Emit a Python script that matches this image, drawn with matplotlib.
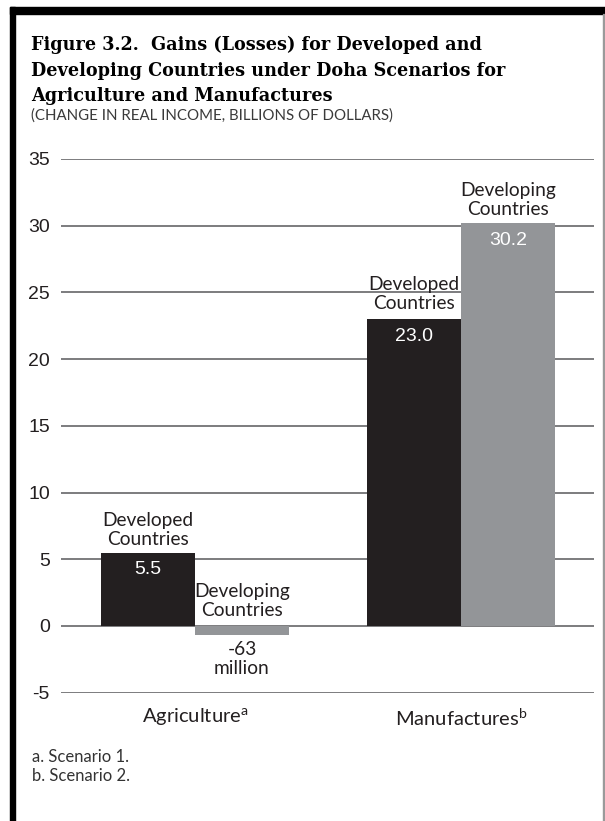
import matplotlib
matplotlib.use("Agg")
import matplotlib.pyplot as plt
from matplotlib.patches import Rectangle
import numpy as np

categories = ["Agriculture", "Manufactures"]
cat_notes = ["a", "b"]
developed = [5.5, 23.0]
developing = [-0.65, 30.2]
developed_labels = ["5.5", "23.0"]
developing_labels = ["-63\nmillion", "30.2"]
yticks = [-5, 0, 5, 10, 15, 20, 25, 30, 35]

W, H = 605, 821
fig = plt.figure(figsize=(W / 100, H / 100), dpi=100)

def fx(px):
    return px / W

def fy(py):
    return 1 - py / H

# frame
fig.patches.append(Rectangle((fx(10), 0), fx(15) - fx(10), fy(7), transform=fig.transFigure,
                             color="black", zorder=0))
fig.patches.append(Rectangle((fx(10), fy(14)), 1 - fx(10), fy(7) - fy(14), transform=fig.transFigure,
                             color="black", zorder=0))
fig.patches.append(Rectangle((fx(603), 0), fx(1.3), fy(14), transform=fig.transFigure,
                             color="#9a9a9a", zorder=0))

ax = fig.add_axes([fx(61), fy(692.7), fx(594) - fx(61), fy(159) - fy(692.7)])

sans = ["Lato", "DejaVu Sans"]
num = ["Liberation Sans", "DejaVu Sans"]
dark = "#231f20"
gray = "#939598"

x = np.arange(len(categories))
w = 0.353
ax.bar(x - w / 2, developed, width=w, color=dark, zorder=3)
ax.bar(x + w / 2, developing, width=w, color=gray, zorder=3)

ax.set_xlim(-0.504, 1.5)
ax.set_ylim(-5, 35)
ax.set_yticks(yticks)
ax.set_yticklabels([str(t) for t in yticks], fontfamily=num, fontsize=14, color="#231f20")
ax.tick_params(axis="y", length=0, pad=8)
ax.set_xticks([])
for t in yticks:
    ax.axhline(t, color="#58595b", lw=1.1, zorder=2)
for s in ax.spines.values():
    s.set_visible(False)

lab_fs = 13.8
ls = 1.15
# Agriculture
ax.text(x[0] - w / 2, developed[0] + 0.35, "Developed\nCountries", ha="center", va="bottom",
        fontfamily=sans, fontsize=lab_fs, color=dark, linespacing=ls)
ax.text(x[0] - w / 2, developed[0] - 0.65, developed_labels[0], ha="center", va="top",
        fontfamily=num, fontsize=14, color="white")
ax.text(x[0] + w / 2, 0.55, "Developing\nCountries", ha="center", va="bottom",
        fontfamily=sans, fontsize=lab_fs, color=dark, linespacing=ls)
ax.text(x[0] + w / 2, developing[0] - 0.45, developing_labels[0], ha="center", va="top",
        fontfamily=sans, fontsize=lab_fs, color=dark, linespacing=ls)
# Manufactures
ax.text(x[1] - w / 2, developed[1] + 0.55, "Developed\nCountries", ha="center", va="bottom",
        fontfamily=sans, fontsize=lab_fs, color=dark, linespacing=ls)
ax.text(x[1] - w / 2, developed[1] - 0.65, developed_labels[1], ha="center", va="top",
        fontfamily=num, fontsize=14, color="white")
ax.text(x[1] + w / 2, developing[1] + 0.35, "Developing\nCountries", ha="center", va="bottom",
        fontfamily=sans, fontsize=lab_fs, color=dark, linespacing=ls)
ax.text(x[1] + w / 2, developing[1] - 0.65, developing_labels[1], ha="center", va="top",
        fontfamily=num, fontsize=14, color="white")

# category labels
for xi, c, n in zip(x, categories, cat_notes):
    ax.text(xi, -6.85, c + r"$^{\mathregular{" + n + "}}$", ha="center", va="center",
            fontfamily=sans, fontsize=14.5, color=dark, transform=ax.transData)

# title
title = ("Figure 3.2.  Gains (Losses) for Developed and\n"
         "Developing Countries under Doha Scenarios for\n"
         "Agriculture and Manufactures")
fig.text(fx(31), fy(36), title, ha="left", va="top", fontfamily=["DejaVu Serif"],
         fontweight="bold", fontsize=12.7, color="black", linespacing=1.52)
fig.text(fx(31), fy(116), "(CHANGE IN REAL INCOME, BILLIONS OF DOLLARS)", ha="left", va="center",
         fontfamily=sans, fontsize=10.8, color="#3a3a3a")

fig.text(fx(32), fy(757), "a. Scenario 1.", ha="left", va="center", fontfamily=sans,
         fontsize=12, color="#333333")
fig.text(fx(32), fy(776), "b. Scenario 2.", ha="left", va="center", fontfamily=sans,
         fontsize=12, color="#333333")

fig.savefig("out.png", dpi=100)
